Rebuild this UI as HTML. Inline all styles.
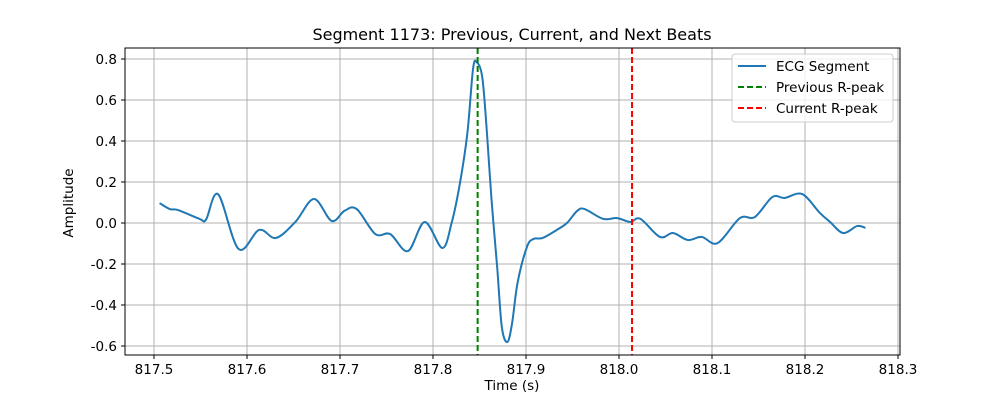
<!DOCTYPE html>
<html><head><meta charset="utf-8"><style>
body{margin:0;background:#fff;}
text{font-family:"DejaVu Sans","Liberation Sans",sans-serif;}
</style></head><body>
<svg id="chart" width="1000" height="400" xmlns="http://www.w3.org/2000/svg">
<rect width="1000" height="400" fill="#fff"/>
<g id="grid"></g>
<g id="series"></g>
<rect x="125" y="48" width="775" height="307" fill="none" stroke="#000" stroke-width="1"/>
<g id="ticks"></g>
<text x="512" y="40" text-anchor="middle" font-size="16">Segment 1173: Previous, Current, and Next Beats</text>
<text x="512" y="390" text-anchor="middle" font-size="13.5">Time (s)</text>
<text x="73" y="203" text-anchor="middle" font-size="13.5" transform="rotate(-90 73 203)">Amplitude</text>
<g>
<rect x="732" y="54" width="161" height="68" rx="3" fill="#fff" fill-opacity="0.8" stroke="#ccc"/>
<line x1="738" y1="66" x2="766" y2="66" stroke="#1f77b4" stroke-width="2"/>
<text x="776" y="71" font-size="13.5">ECG Segment</text>
<line x1="738" y1="87" x2="766" y2="87" stroke="green" stroke-width="2" stroke-dasharray="6,3"/>
<text x="776" y="92" font-size="13.5">Previous R-peak</text>
<line x1="738" y1="108" x2="766" y2="108" stroke="red" stroke-width="2" stroke-dasharray="6,3"/>
<text x="776" y="113" font-size="13.5">Current R-peak</text>
</g>
</svg>
<script>
const times=[817.506,817.517,817.526,817.549,817.556,817.569,817.591,817.613,817.631,817.652,817.672,817.691,817.705,817.718,817.738,817.754,817.773,817.791,817.810,817.820,817.829,817.837,817.843,817.847,817.853,817.858,817.863,817.869,817.874,817.880,817.885,817.891,817.901,817.908,817.918,817.933,817.944,817.955,817.963,817.983,817.998,818.012,818.023,818.044,818.058,818.074,818.089,818.106,818.130,818.146,818.165,818.178,818.197,818.216,818.227,818.241,818.256,818.265];
const values=[0.097,0.068,0.063,0.02,0.017,0.14,-0.127,-0.034,-0.073,0.005,0.117,0.01,0.06,0.068,-0.054,-0.054,-0.137,0.005,-0.122,0.0,0.195,0.44,0.75,0.785,0.71,0.44,0.11,-0.215,-0.507,-0.58,-0.49,-0.29,-0.117,-0.078,-0.073,-0.034,0.0,0.059,0.068,0.02,0.024,0.005,0.02,-0.068,-0.049,-0.083,-0.068,-0.098,0.024,0.029,0.127,0.122,0.141,0.049,0.005,-0.049,-0.015,-0.024];
const xTicks=[817.5,817.6,817.7,817.8,817.9,818.0,818.1,818.2,818.3];
const yTicks=[-0.6,-0.4,-0.2,0.0,0.2,0.4,0.6,0.8];
const prevPeak=817.848;
const currPeak=818.014;
const NS='http://www.w3.org/2000/svg';
function xs(t){return 154+(t-817.5)*930;}
function ys(v){return 223-v*205;}
function mk(tag,attrs,parent){const e=document.createElementNS(NS,tag);for(const k in attrs)e.setAttribute(k,attrs[k]);parent.appendChild(e);return e;}
const grid=document.getElementById('grid'),ticks=document.getElementById('ticks'),series=document.getElementById('series');
xTicks.forEach(t=>{const x=xs(t);
 const g=mk('line',{x1:x,x2:x,y1:48,y2:355,stroke:'#b0b0b0','stroke-width':1},grid);
 
 
 mk('line',{x1:x,x2:x,y1:355,y2:359,stroke:'#000'},ticks);
 const tx=mk('text',{x:x,y:374,'text-anchor':'middle','font-size':13.5},ticks);tx.textContent=t.toFixed(1);
 
 });
yTicks.forEach(v=>{const y=ys(v);
 const g=mk('line',{x1:125,x2:900,y1:y,y2:y,stroke:'#b0b0b0','stroke-width':1},grid);
 
 
 mk('line',{x1:121,x2:125,y1:y,y2:y,stroke:'#000'},ticks);
 const tx=mk('text',{x:117,y:y+5,'text-anchor':'end','font-size':13.5},ticks);tx.textContent=v.toFixed(1);
 
 });
const P=times.map((t,i)=>[xs(t),ys(values[i])]);
let d='M'+P[0][0]+','+P[0][1];
for(let i=0;i<P.length-1;i++){const p0=P[Math.max(0,i-1)],p1=P[i],p2=P[i+1],p3=P[Math.min(P.length-1,i+2)];
 d+=' C'+(p1[0]+(p2[0]-p0[0])/6)+','+(p1[1]+(p2[1]-p0[1])/6)+' '+(p2[0]-(p3[0]-p1[0])/6)+','+(p2[1]-(p3[1]-p1[1])/6)+' '+p2[0]+','+p2[1];}
const ecg=mk('path',{d:d,fill:'none',stroke:'#1f77b4','stroke-width':2},series);


const pl=mk('line',{x1:xs(prevPeak),x2:xs(prevPeak),y1:48,y2:355,stroke:'green','stroke-width':2,'stroke-dasharray':'6,3'},series);


const cl=mk('line',{x1:xs(currPeak),x2:xs(currPeak),y1:48,y2:355,stroke:'red','stroke-width':2,'stroke-dasharray':'6,3'},series);


</script>
</body></html>
